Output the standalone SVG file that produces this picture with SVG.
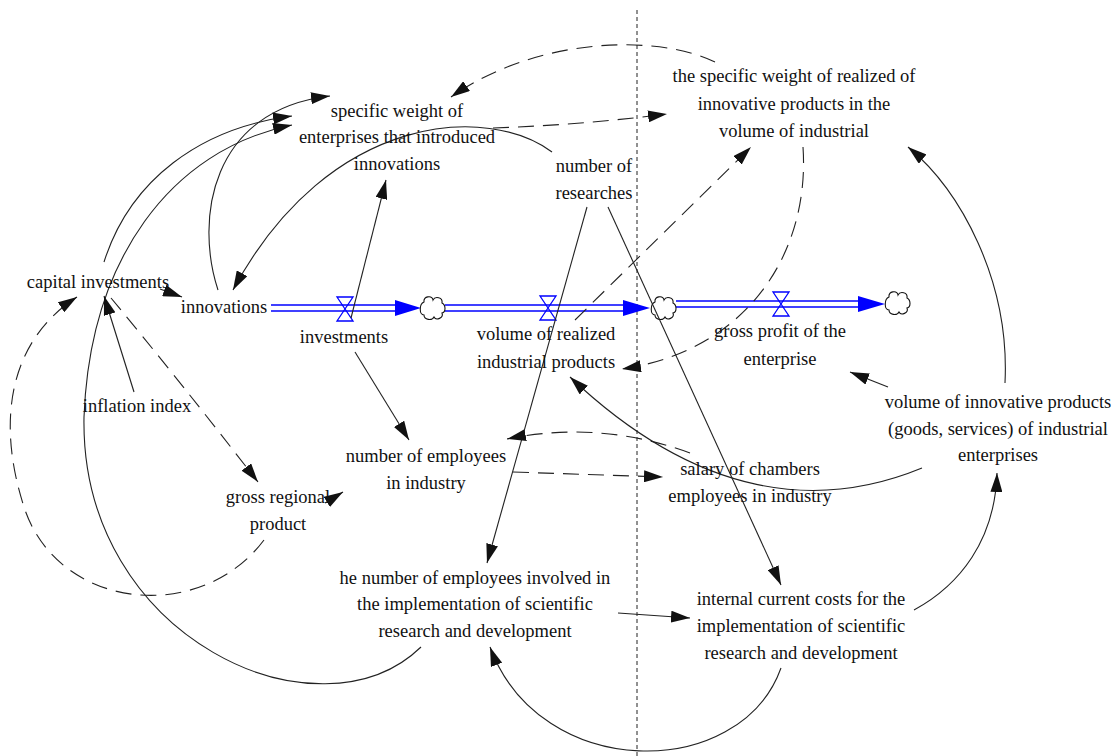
<svg xmlns="http://www.w3.org/2000/svg" width="1117" height="756" viewBox="0 0 1117 756">
<defs>
<marker id="ah" markerUnits="userSpaceOnUse" markerWidth="19" markerHeight="12" viewBox="0 0 19 12" refX="19" refY="6" orient="auto"><path d="M0,0 L19,6 L0,12 Z" fill="#111"/></marker>
<path id="cloud" d="M -8,-6 C -9,-12 0,-13 1,-8 C 3,-12 11,-11 10,-5 C 14,-3 14,4 10,5 C 12,10 4,13 2,9 C 0,13 -8,12 -8,7 C -13,7 -13,-4 -8,-6 Z" fill="#fff" stroke="#111" stroke-width="1.1"/>
<path id="valve" d="M -8,-12 L 8,-12 L -8,12 L 8,12 Z" fill="none" stroke="#0000ff" stroke-width="1.3"/>
</defs>
<style>
text{font-family:"Liberation Serif","Times New Roman",serif;font-size:18.5px;fill:#111;text-anchor:middle}
.c{fill:none;stroke:#222;stroke-width:1.1}
.d{stroke-dasharray:16,9}
.a{marker-end:url(#ah)}
.po{stroke:#0000ff;stroke-width:7.5;fill:none}
.pi{stroke:#fff;stroke-width:4.5;fill:none}
.ph{fill:#0000ff}
</style>
<rect width="1117" height="756" fill="#fff"/>
<line x1="637" y1="10" x2="637" y2="756" stroke="#222" stroke-width="1" stroke-dasharray="4,3"/>

<g id="flows">
<path class="po" d="M271,308 H397"/><path class="pi" d="M271,308 H397"/>
<polygon class="ph" points="395,300 421,308 395,316"/>
<path class="po" d="M445,308 H625"/><path class="pi" d="M445,308 H625"/>
<polygon class="ph" points="623,300 650,308 623,316"/>
<path class="po" d="M676,304 H860"/><path class="pi" d="M676,304 H860"/>
<polygon class="ph" points="858,296 885,304 858,312"/>
<use href="#valve" x="345" y="309"/>
<use href="#valve" x="548" y="308"/>
<use href="#valve" x="781" y="304"/>
<use href="#cloud" x="432" y="308"/>
<use href="#cloud" x="663" y="308"/>
<use href="#cloud" x="897" y="303"/>
</g>

<g id="connectors">
<path class="c d a" d="M715,62 C660,35 540,35 451,97"/>
<path class="c d a" d="M493,128 Q580,125 667,114"/>
<path class="c a" d="M552,152 C490,105 330,110 233,290"/>
<path class="c a" d="M218,290 C195,220 210,110 330,96"/>
<path class="c a" d="M104,262 C130,180 200,128 292,116"/>
<path class="c a" d="M421,647 C320,745 80,640 84,417 C90,260 170,150 292,125"/>
<path class="c a" d="M351,318 L386,180"/>
<path class="c a" d="M160,289 L182,297"/>
<path class="c a" d="M134,392 L104,296"/>
<path class="c d a" d="M111,298 Q175,375 258,482"/>
<path class="c d a" d="M264,540 C200,625 60,610 25,510 C-5,420 10,340 77,297"/>
<path class="c a" d="M325,503 L343,492"/>
<path class="c a" d="M355,352 L409,440"/>
<path class="c a" d="M587,207 L487,563"/>
<path class="c a" d="M608,207 L781,585"/>
<path class="c d a" d="M575,320 L751,147"/>
<path class="c d a" d="M803,147 C810,250 750,350 622,369"/>
<path class="c a" d="M888,387 L850,372"/>
<path class="c a" d="M1005,383 C1010,280 960,190 908,147"/>
<path class="c a" d="M914,610 C960,585 995,540 997,473"/>
<path class="c a" d="M781,668 C740,782 540,782 490,647"/>
<path class="c a" d="M618,613 L690,618"/>
<path class="c d a" d="M690,453 Q600,420 507,439"/>
<path class="c d a" d="M513,472 L663,477"/>
<path class="c a" d="M922,468 C820,510 700,500 570,377"/>
</g>

<g id="n_swe"><text x="397" y="117">specific weight of</text><text x="397" y="143">enterprises that introduced</text><text x="397" y="170">innovations</text></g>
<g id="n_swr"><text x="794" y="82">the specific weight of realized of</text><text x="794" y="110">innovative products in the</text><text x="794" y="137">volume of industrial</text></g>
<g id="n_nr"><text x="594" y="172">number of</text><text x="594" y="199">researches</text></g>
<g id="n_ci"><text x="98" y="288">capital investments</text></g>
<g id="n_inn"><text x="224" y="313">innovations</text></g>
<g id="n_inv"><text x="344" y="343">investments</text></g>
<g id="n_inf"><text x="137" y="412">inflation index</text></g>
<g id="n_grp"><text x="278" y="503">gross regional</text><text x="278" y="530">product</text></g>
<g id="n_ne"><text x="426" y="462">number of employees</text><text x="426" y="489">in industry</text></g>
<g id="n_vrip"><text x="546" y="340">volume of realized</text><text x="546" y="368">industrial products</text></g>
<g id="n_gpe"><text x="780" y="337">gross profit of the</text><text x="780" y="365">enterprise</text></g>
<g id="n_vip"><text x="998" y="408">volume of innovative products</text><text x="998" y="435">(goods, services) of industrial</text><text x="998" y="461">enterprises</text></g>
<g id="n_sal"><text x="750" y="475">salary of chambers</text><text x="750" y="502">employees in industry</text></g>
<g id="n_he"><text x="475" y="584">he number of employees involved in</text><text x="475" y="610">the implementation of scientific</text><text x="475" y="637">research and development</text></g>
<g id="n_icc"><text x="801" y="605">internal current costs for the</text><text x="801" y="632">implementation of scientific</text><text x="801" y="659">research and development</text></g>
</svg>
